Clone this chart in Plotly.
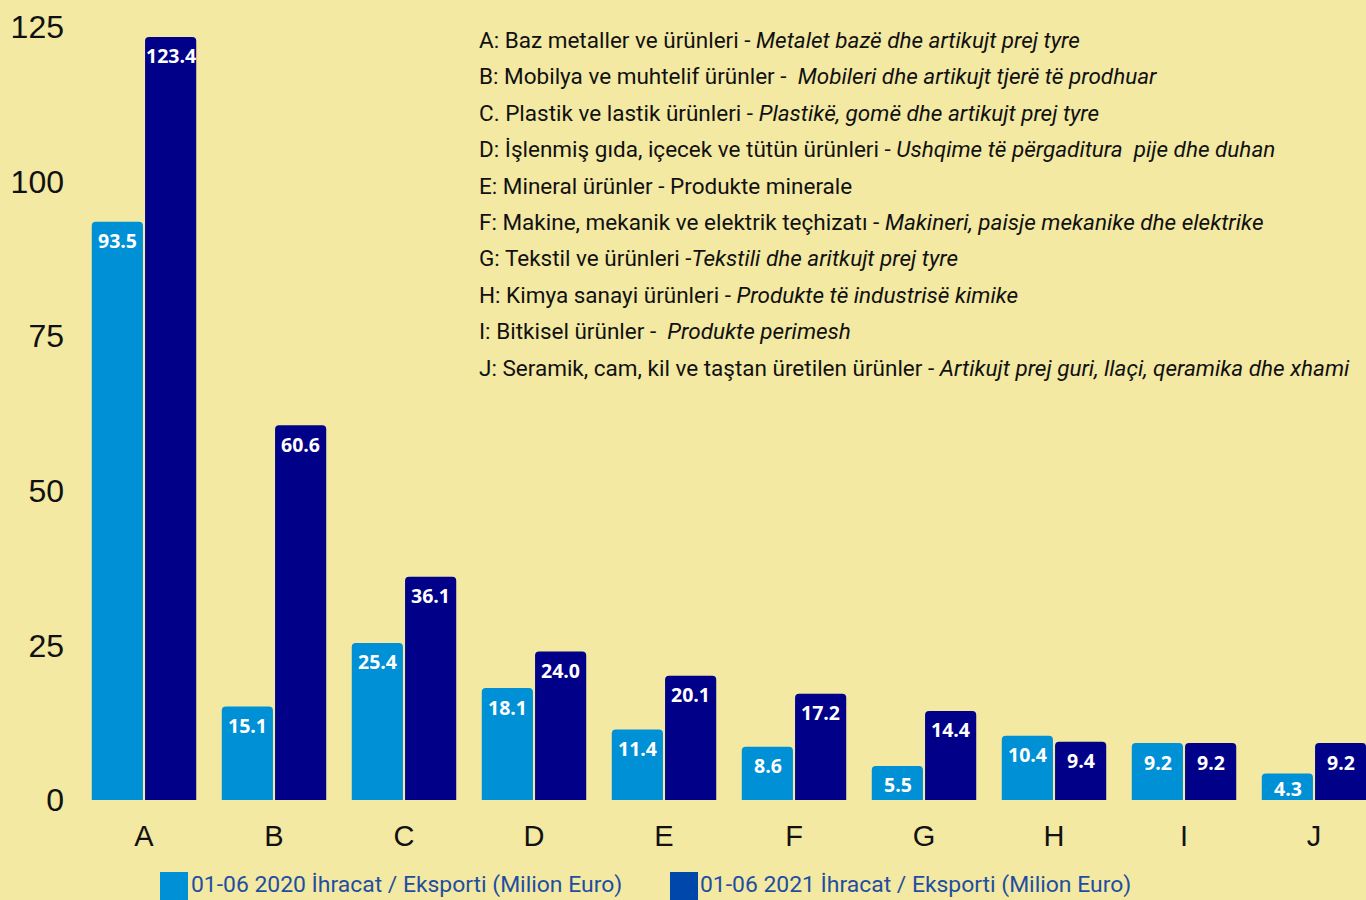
import plotly.graph_objects as go

# data
categories = ["A", "B", "C", "D", "E", "F", "G", "H", "I", "J"]
exports_2020 = [93.5, 15.1, 25.4, 18.1, 11.4, 8.6, 5.5, 10.4, 9.2, 4.3]
exports_2021 = [123.4, 60.6, 36.1, 24.0, 20.1, 17.2, 14.4, 9.4, 9.2, 9.2]
series_names = [
    "01-06 2020 İhracat / Eksporti (Milion Euro)",
    "01-06 2021 İhracat / Eksporti (Milion Euro)",
]
y_ticks = [0, 25, 50, 75, 100, 125]
notes = [
    "A: Baz metaller ve ürünleri - <i>Metalet bazë dhe artikujt prej tyre</i>",
    "B: Mobilya ve muhtelif ürünler -  <i>Mobileri dhe artikujt tjerë të prodhuar</i>",
    "C. Plastik ve lastik ürünleri - <i>Plastikë, gomë dhe artikujt prej tyre</i>",
    "D: İşlenmiş gıda, içecek ve tütün ürünleri - <i>Ushqime të përgaditura  pije dhe duhan</i>",
    "E: Mineral ürünler - Produkte minerale",
    "F: Makine, mekanik ve elektrik teçhizatı - <i>Makineri, paisje mekanike dhe elektrike</i>",
    "G: Tekstil ve ürünleri -<i>Tekstili dhe aritkujt prej tyre</i>",
    "H: Kimya sanayi ürünleri - <i>Produkte të industrisë kimike</i>",
    "I: Bitkisel ürünler -  <i>Produkte perimesh</i>",
    "J: Seramik, cam, kil ve taştan üretilen ürünler - <i>Artikujt prej guri, llaçi, qeramika dhe xhami</i>",
]

BG = "#f3e9a2"
LIGHT = "#0090d5"
DARK = "#000088"
SWATCH = ["#0090d5", "#0047ab"]
PX_PER_UNIT = 773 / 125  # plot height / y range

fig = go.Figure()
for vals, col, name in [(exports_2020, LIGHT, series_names[0]),
                        (exports_2021, DARK, series_names[1])]:
    fig.add_trace(go.Bar(
        x=categories, y=vals, name=name,
        marker=dict(color=col, cornerradius=4, line_width=0),
        showlegend=False,
    ))

# value labels near the top of each bar (kept inside short bars)
for vals, shift in [(exports_2020, -26.5), (exports_2021, 26.5)]:
    for cat, v in zip(categories, vals):
        fig.add_annotation(
            x=cat, y=v, text=f"{v:.1f}", showarrow=False,
            xshift=shift, yshift=-min(19, v * PX_PER_UNIT - 12), yanchor="middle",
            font=dict(family="Open Sans", size=19.5, color="white", weight="bold"),
        )

# notes block
for i, line in enumerate(notes):
    fig.add_annotation(
        text=line, xref="paper", yref="paper",
        x=(477 - 79) / 1287, y=(800 - 40 - i * 36.4) / 773,
        xanchor="left", yanchor="middle", showarrow=False,
        font=dict(family="Roboto", size=22.5, color="#111111"),
    )

# manual legend
for i, (px, tx) in enumerate([(160, 189), (670, 698)]):
    fig.add_shape(type="rect", xref="paper", yref="paper",
                  x0=(px - 79) / 1287, x1=(px + 28 - 79) / 1287,
                  y0=(800 - 872) / 773, y1=(800 - 902) / 773,
                  fillcolor=SWATCH[i], line_width=0)
    fig.add_annotation(
        text=series_names[i], xref="paper", yref="paper",
        x=(tx - 79) / 1287, y=(800 - 885) / 773,
        xanchor="left", yanchor="middle", showarrow=False,
        font=dict(family="Roboto", size=22.9, color="#1f4ea0"),
    )

fig.update_layout(
    width=1366, height=900,
    paper_bgcolor=BG, plot_bgcolor=BG,
    margin=dict(l=79, r=0, t=27, b=100),
    barmode="group", bargap=0.18, bargroupgap=0.04,
    xaxis=dict(range=[-0.5, 9.4], showgrid=False, zeroline=False, showline=False,
               tickfont=dict(family="Liberation Sans", size=29, color="#111"),
               ticklabelstandoff=16),
    yaxis=dict(range=[0, 125], tickvals=y_ticks, showgrid=False, zeroline=False,
               showline=False,
               tickfont=dict(family="Liberation Sans", size=32, color="#111"),
               ticklabelstandoff=14),
)

fig.write_html("out.html", config={"displayModeBar": False},
               post_script="document.body.style.margin='0';")
